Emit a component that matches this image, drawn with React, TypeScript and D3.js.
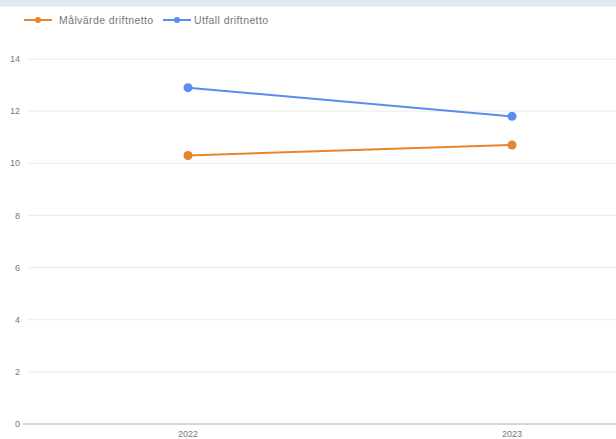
import React from "react";
import * as d3 from "d3";

const years = ["2022", "2023"];
const targetValues = [10.3, 10.7];
const actualValues = [12.9, 11.8];
const yTicks = [0, 2, 4, 6, 8, 10, 12, 14];

const seriesNames = ["Målvärde driftnetto", "Utfall driftnetto"];
const seriesColors = ["#e8852c", "#5b8cef"];

const W = 616;
const H = 439;

export default function App() {
  const x = d3.scalePoint<string>().domain(years).range([188, 512]);
  const y = d3.scaleLinear().domain([0, 14]).range([424, 59]);

  const line = d3
    .line<number>()
    .x((_, i) => x(years[i]) as number)
    .y((d) => y(d));

  const series = [targetValues, actualValues];

  const legendX = [24, 163];

  return (
    <div style={{ position: "fixed", left: 0, top: 0 }}>
      <svg width={W} height={H} style={{ display: "block", fontFamily: "Liberation Sans, Arial, sans-serif" }}>
        <rect x={0} y={0} width={W} height={H} fill="#ffffff" />
        <rect x={0} y={0} width={W} height={6} fill="#dbe9f2" />
        <rect x={0} y={6} width={W} height={1} fill="#eef5f9" />

        {/* grid lines and y labels */}
        {yTicks.map((t) => (
          <g key={t}>
            {t !== 0 && (
              <line x1={28} x2={W} y1={y(t)} y2={y(t)} stroke="#ececec" strokeWidth={1} />
            )}
            <text x={20} y={y(t)} dy="0.35em" textAnchor="end" fontSize={9} fill="#777">
              {t}
            </text>
          </g>
        ))}
        <line x1={23} x2={W} y1={y(0)} y2={y(0)} stroke="#c8c8c8" strokeWidth={1.5} />

        {/* x labels */}
        {years.map((yr) => (
          <text key={yr} x={x(yr)} y={437} textAnchor="middle" fontSize={9} fill="#777">
            {yr}
          </text>
        ))}

        {/* series */}
        {series.map((vals, si) => (
          <g key={si}>
            <path d={line(vals) ?? ""} fill="none" stroke={seriesColors[si]} strokeWidth={2} />
            {vals.map((v, i) => (
              <circle key={i} cx={x(years[i])} cy={y(v)} r={4.5} fill={seriesColors[si]} />
            ))}
          </g>
        ))}

        {/* legend */}
        {seriesNames.map((name, i) => (
          <g key={name} transform={`translate(${legendX[i]},20)`}>
            <line x1={0} x2={28} y1={0} y2={0} stroke={seriesColors[i]} strokeWidth={2} />
            <circle cx={14} cy={0} r={3} fill={seriesColors[i]} />
            <text x={i === 0 ? 35 : 31} y={0} dy="0.35em" fontSize={10.5} fill="#777" letterSpacing={0.4}>
              {name}
            </text>
          </g>
        ))}
      </svg>
    </div>
  );
}
